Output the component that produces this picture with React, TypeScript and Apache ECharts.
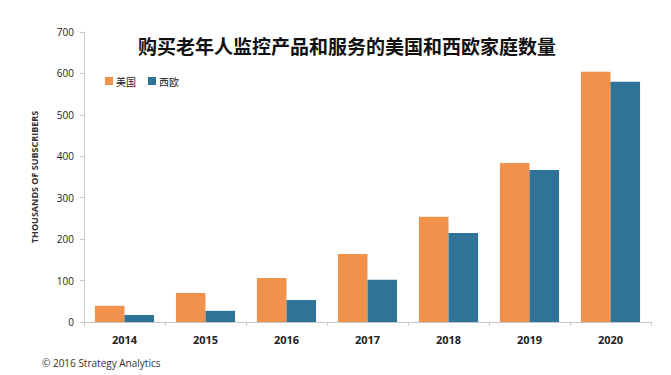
import React, { useEffect, useRef } from "react";
import * as echarts from "echarts";

const categories = ["2014", "2015", "2016", "2017", "2018", "2019", "2020"];
const usValues = [39, 70, 106, 164, 254, 384, 604];
const weValues = [17, 27, 53, 102, 215, 367, 580];
const seriesNames = ["美国", "西欧"];
const titleText = "购买老年人监控产品和服务的美国和西欧家庭数量";
const yAxisName = "THOUSANDS OF SUBSCRIBERS";
const footerText = "© 2016 Strategy Analytics";

export default function App() {
  const ref = useRef<HTMLDivElement>(null);
  useEffect(() => {
    if (!ref.current) return;
    const chart = echarts.init(ref.current, undefined, { renderer: "svg" });
    const font = "'Noto Sans CJK SC', 'Noto Sans', sans-serif";
    chart.setOption({
      animation: false,
      backgroundColor: "#ffffff",
      title: {
        text: titleText,
        left: 342,
        textAlign: "center",
        top: 31,
        textStyle: { fontSize: 19, fontWeight: "bold", color: "#111", fontFamily: font },
      },
      legend: {
        left: 100,
        top: 71,
        itemWidth: 8,
        itemHeight: 8,
        itemGap: 12,
        icon: "rect",
        textStyle: { fontSize: 10, color: "#222", fontFamily: font, padding: [0, 0, 0, -2] },
        data: seriesNames,
      },
      graphic: [
        {
          type: "text",
          left: 42,
          top: 358,
          style: { text: footerText, fontSize: 10, fill: "#333", fontFamily: "'Open Sans', sans-serif" },
        },
      ],
      grid: { left: 84, right: 20, top: 32, bottom: 53, containLabel: false },
      xAxis: {
        type: "category",
        data: categories,
        axisLine: { lineStyle: { color: "#c8c8c8" } },
        axisTick: { show: true, lineStyle: { color: "#c8c8c8" }, length: 4 },
        axisLabel: { fontSize: 11, color: "#222", fontWeight: "bold", margin: 12, fontFamily: "'Open Sans', sans-serif" },
      },
      yAxis: {
        type: "value",
        min: 0,
        max: 700,
        interval: 100,
        name: yAxisName,
        nameLocation: "middle",
        nameGap: 45,
        nameRotate: 90,
        nameTextStyle: { fontSize: 9, color: "#333", fontWeight: "bold", fontFamily: "'Open Sans', sans-serif" },
        axisLine: { show: true, lineStyle: { color: "#c8c8c8" } },
        axisTick: { show: true, length: 4, lineStyle: { color: "#c8c8c8" } },
        splitLine: { show: false },
        axisLabel: { fontSize: 10, color: "#222", margin: 10, fontFamily: "'Open Sans', sans-serif" },
      },
      series: [
        {
          name: seriesNames[0],
          type: "bar",
          data: usValues,
          itemStyle: { color: "#F0924C" },
          barGap: "0%",
          barCategoryGap: "27%",
        },
        {
          name: seriesNames[1],
          type: "bar",
          data: weValues,
          itemStyle: { color: "#2F7399" },
          barGap: "0%",
          barCategoryGap: "27%",
        },
      ],
    });
    return () => chart.dispose();
  }, []);
  return <div ref={ref} style={{ width: 671, height: 375, position: "absolute", left: 0, top: 0 }} />;
}
